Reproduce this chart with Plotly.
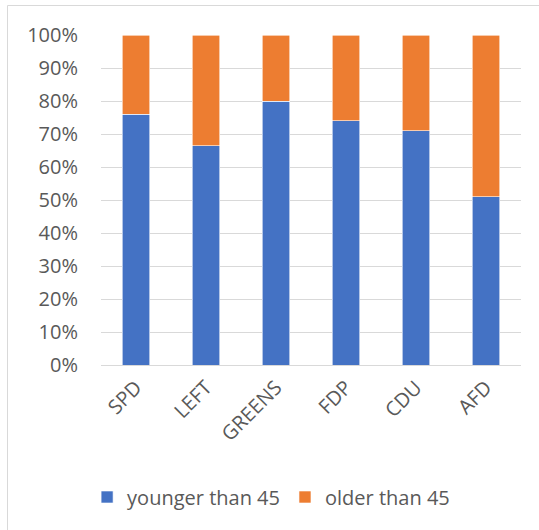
import plotly.graph_objects as go

parties = ["SPD", "LEFT", "GREENS", "FDP", "CDU", "AFD"]
younger = [0.76, 0.665, 0.80, 0.74, 0.71, 0.51]
older = [0.24, 0.335, 0.20, 0.26, 0.29, 0.49]
y_ticks = [i / 10 for i in range(11)]
y_tick_labels = [f"{i * 10}%" for i in range(11)]

FONT = "Open Sans, Noto Sans, sans-serif"
TXT = "#595959"

fig = go.Figure()
fig.add_bar(x=parties, y=younger, name="younger than 45",
            marker=dict(color="#4472C4", line=dict(color="#FFFFFF", width=0.6)))
fig.add_bar(x=parties, y=older, name="older than 45",
            marker=dict(color="#ED7D31", line=dict(color="#FFFFFF", width=0.6)))

x_left = (7.5 - 101) / 420
y_top = (365 - 5.5) / 330

fig.update_layout(
    barmode="stack",
    bargap=0.614,
    width=539, height=530,
    margin=dict(l=101, r=18, t=35, b=165),
    paper_bgcolor="white", plot_bgcolor="white",
    font=dict(family=FONT, size=20, color=TXT),
    showlegend=True,
    legend=dict(orientation="h", x=0.405, xanchor="center", y=-0.4, yanchor="middle",
                font=dict(family=FONT, size=20, color=TXT),
                traceorder="normal"),
    xaxis=dict(tickangle=-45, showgrid=False, showline=False, ticks="",
               ticklabelstandoff=6,
               tickfont=dict(family=FONT, size=20, color=TXT)),
    yaxis=dict(range=[0, 1], tickvals=y_ticks, ticktext=y_tick_labels,
               showgrid=True, gridcolor="#D9D9D9", gridwidth=1,
               zeroline=True, zerolinecolor="#D9D9D9", zerolinewidth=1,
               showline=False, ticks="", ticklen=0, ticklabelstandoff=22,
               tickfont=dict(family=FONT, size=20, color=TXT)),
    shapes=[
        dict(type="line", xref="paper", yref="paper",
             x0=x_left, x1=(539 - 101) / 420, y0=y_top, y1=y_top,
             line=dict(color="#D9D9D9", width=1), layer="below"),
        dict(type="line", xref="paper", yref="paper",
             x0=x_left, x1=x_left, y0=y_top, y1=(365 - 530) / 330,
             line=dict(color="#D9D9D9", width=1), layer="below"),
    ],
)

fig.write_html("out.html")
